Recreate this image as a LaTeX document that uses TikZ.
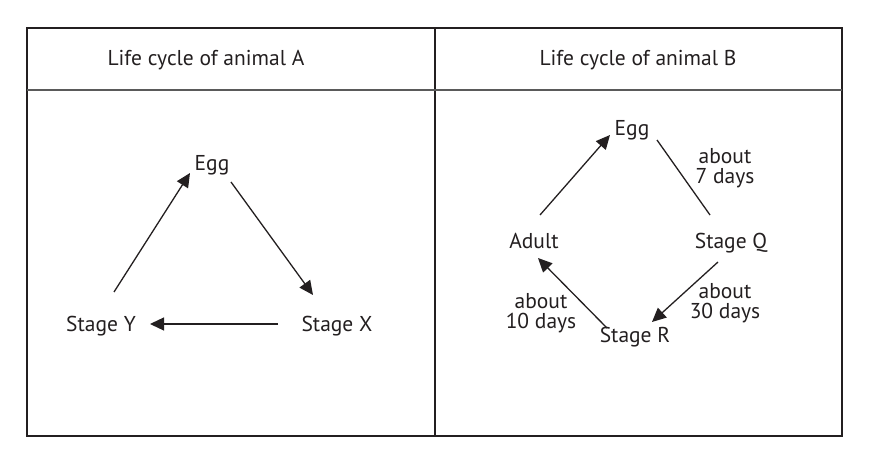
\documentclass[tikz,border=0pt]{standalone}
\usepackage{fontspec}
\setmainfont{PT Sans}
\usepackage{xcolor}
\usetikzlibrary{arrows.meta,positioning,calc}
\definecolor{ink}{HTML}{231F20}
\definecolor{grid}{HTML}{5A5A5A}

\begin{document}
\begin{tikzpicture}[x=1pt,y=-1pt,
  stage/.style={anchor=base,inner sep=0pt,font=\fontsize{21.5}{20}\selectfont,text=ink},
  ttl/.style={anchor=base,inner sep=0pt,font=\fontsize{21.5}{20}\selectfont,text=ink},
  dur/.style={inner sep=0pt,align=center,font=\fontsize{21.5}{20}\selectfont,text=ink},
  ar/.style={-{Triangle[length=14pt,width=13pt]},line width=1.3pt,draw=ink},
  ln/.style={line width=1.3pt,draw=ink}]
\useasboundingbox (0,0) rectangle (871,465);
% table frame
\draw[ink,line width=2pt] (27,28) rectangle (842,436);
\draw[ink,line width=2pt] (435,28) -- (435,436);
\draw[grid,line width=1.6pt] (27,90) -- (842,90);
\node[ttl] (ta) at (206,66) {Life cycle of animal A};
\node[ttl] (tb) at (638,66) {Life cycle of animal B};
% animal A
\node[stage] (eggA) at (212,171) {Egg};
\node[stage] (xA) at (337,332) {Stage X};
\node[stage] (yA) at (101,332) {Stage Y};
\draw[ar] ([shift={(13,-40)}]yA.base) -- ([shift={(-22,2)}]eggA.base);
\draw[ar] ([shift={(19,11)}]eggA.base) -- ([shift={(-24,-37)}]xA.base);
\draw[ar] ([shift={(-59,-8)}]xA.base) -- ([shift={(49,-8)}]yA.base);
% animal B
\node[stage] (eggB) at (632,136) {Egg};
\node[stage] (stQ) at (731,249) {Stage Q};
\node[stage] (stR) at (635,343) {Stage R};
\node[stage] (adult) at (534,249) {Adult};
\node[dur] (d7) at (725,168) {about\\7 days};
\node[dur] (d30) at (725,303) {about\\30 days};
\node[dur] (d10) at (541,313) {about\\10 days};
\draw[ar] ([shift={(6,-34)}]adult.base) -- ([shift={(-22,-1)}]eggB.base);
\draw[ln] ([shift={(25,4)}]eggB.base) -- ([shift={(-21,-34)}]stQ.base);
\draw[ar] ([shift={(-13,13)}]stQ.base) -- ([shift={(17,-21)}]stR.base);
\draw[ar] ([shift={(-28,-15)}]stR.base) -- ([shift={(4,9)}]adult.base);
\end{tikzpicture}
\end{document}
